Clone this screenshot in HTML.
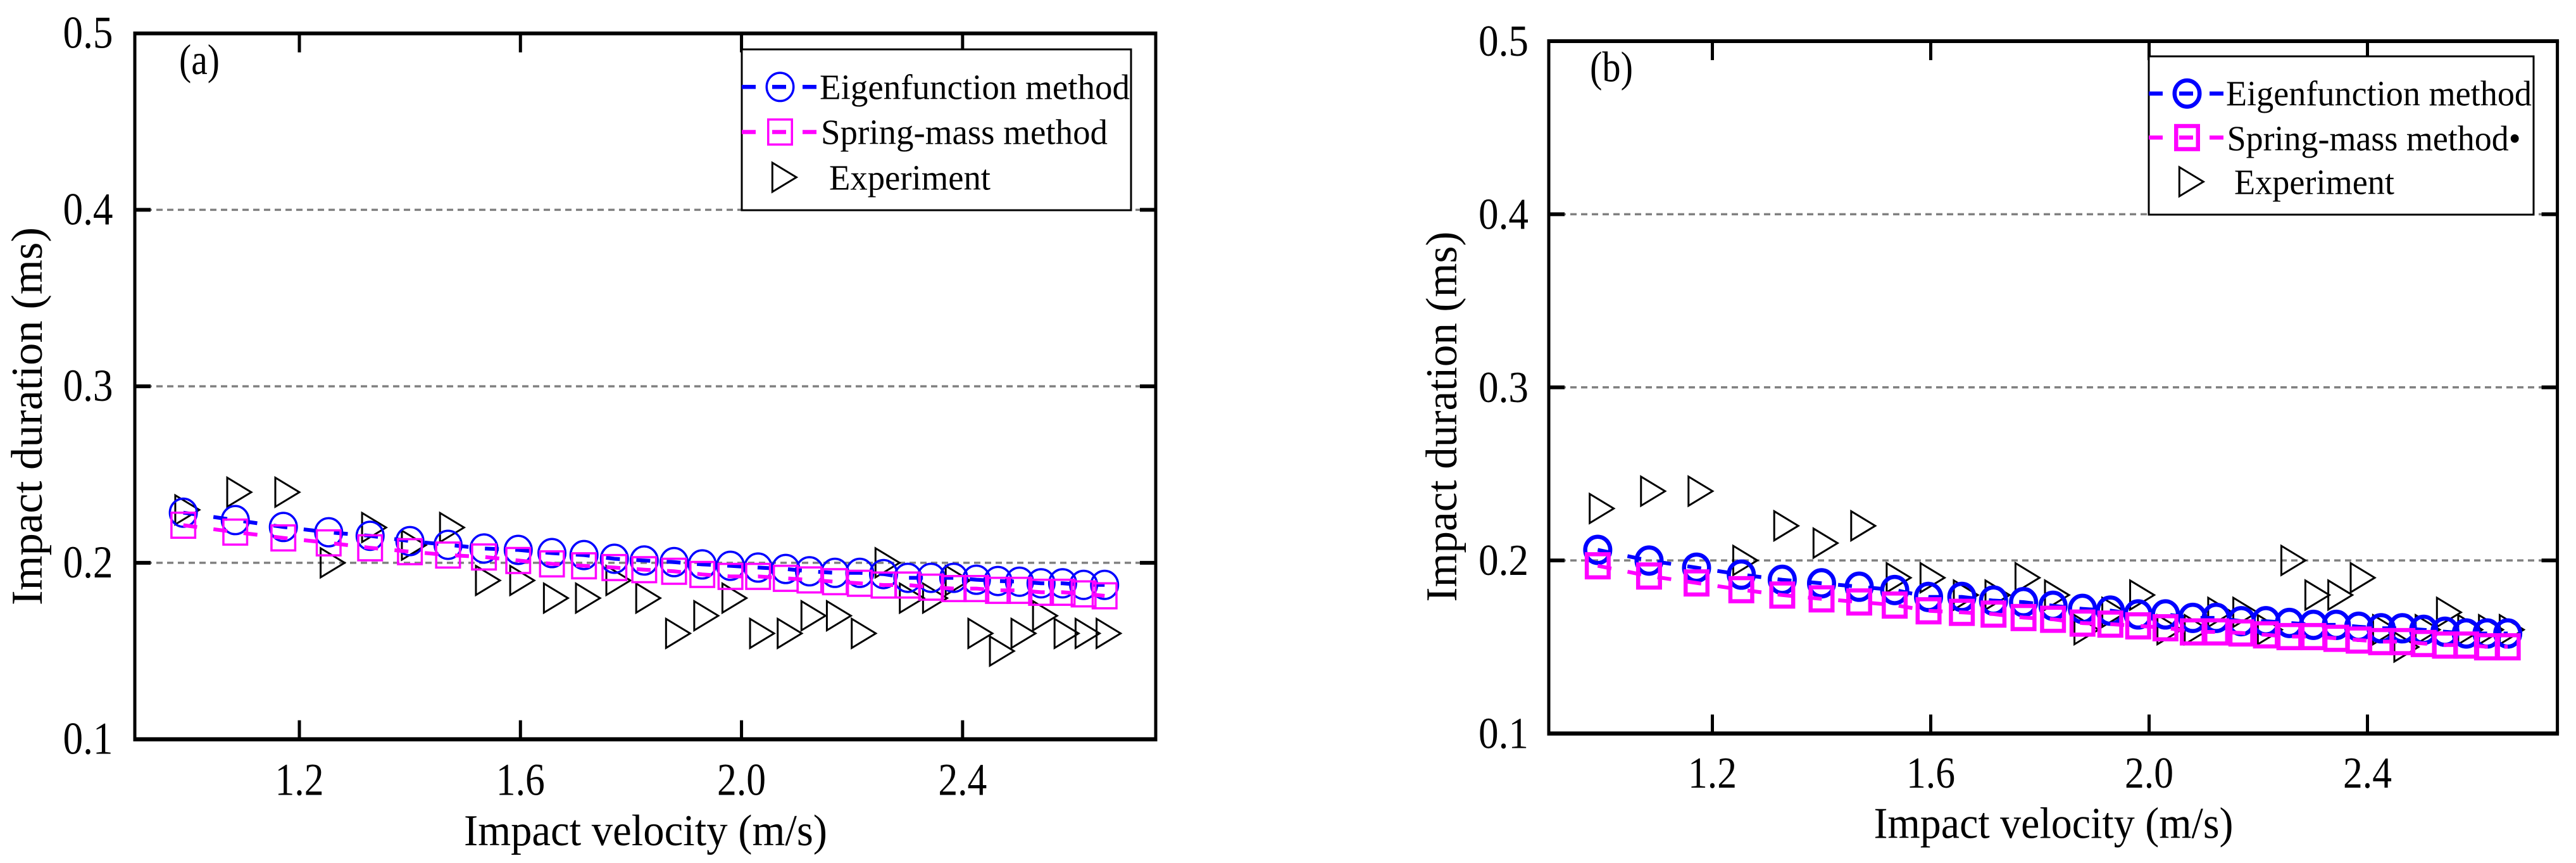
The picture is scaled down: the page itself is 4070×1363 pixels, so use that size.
<!DOCTYPE html>
<html lang="en">
<head>
<meta charset="utf-8">
<title>Impact duration versus impact velocity</title>
<style>
html,body{margin:0;padding:0;background:#fff;}
svg{display:block;}
text{font-family:"Liberation Serif","Times New Roman",serif;fill:#000;}
</style>
</head>
<body>
<svg id="figure" xmlns="http://www.w3.org/2000/svg" width="4070" height="1363" viewBox="0 0 4070 1363">
<rect x="0" y="0" width="4070" height="1363" fill="#fff"></rect>
</svg>
<script>
const velocity = [0.990,1.084,1.171,1.253,1.328,1.400,1.469,1.534,1.596,1.657,1.715,1.770,1.824,1.878,1.929,1.980,2.030,2.080,2.123,2.169,2.214,2.257,2.301,2.343,2.384,2.425,2.464,2.503,2.542,2.581,2.619,2.657];
const eigenA = [.2284,.2242,.2203,.2173,.2153,.2123,.2102,.2081,.2073,.2055,.2044,.2023,.2013,.2004,.1991,.1983,.1973,.1965,.1952,.1943,.1943,.1936,.1915,.1915,.1915,.1904,.1897,.1893,.1884,.1884,.1875,.1875];
const springA = [.2213,.2174,.2141,.2113,.2085,.2063,.2044,.2033,.2013,.1994,.1983,.1973,.1961,.1952,.1934,.1923,.1923,.1912,.1903,.1893,.1884,.1874,.1874,.1862,.1854,.1854,.1844,.1844,.1833,.1833,.1824,.1813];
const experimentA = [.23,.24,.24,.20,.22,.21,.22,.19,.19,.18,.18,.19,.18,.16,.17,.18,.16,.16,.17,.17,.16,.20,.18,.18,.19,.16,.15,.16,.17,.16,.16,.16];
const eigenB = [.2061,.1999,.1958,.1918,.1888,.1868,.1848,.1829,.1789,.1789,.1768,.1759,.1738,.1720,.1710,.1688,.1688,.1668,.1668,.1649,.1649,.1639,.1628,.1628,.1617,.1608,.1608,.1599,.1588,.1578,.1578,.1578];
const springB = [.1969,.1910,.1870,.1831,.1800,.1778,.1760,.1742,.1709,.1700,.1690,.1670,.1660,.1638,.1632,.1622,.1611,.1587,.1587,.1581,.1570,.1560,.1560,.1550,.1540,.1531,.1531,.1520,.1511,.1511,.1501,.1501];
const experimentB = [.23,.24,.24,.20,.22,.21,.22,.19,.19,.18,.18,.19,.18,.16,.17,.18,.16,.16,.17,.17,.16,.20,.18,.18,.19,.16,.15,.16,.17,.16,.16,.16];
const xTicks = [1.2,1.6,2.0,2.4];
const xTickLabels = ["1.2","1.6","2.0","2.4"];
const yTicks = [0.1,0.2,0.3,0.4,0.5];
const yTickLabels = ["0.1","0.2","0.3","0.4","0.5"];

const NS = "http://www.w3.org/2000/svg";
const root = document.getElementById("figure");

function svgEl(parent, tag, attrs, txt) {
  const el = document.createElementNS(NS, tag);
  for (const k in attrs) el.setAttribute(k, attrs[k]);
  if (txt !== undefined) el.textContent = txt;
  parent.appendChild(el);
  return el;
}
function triPoints(cx, cy) {
  return (cx - 12.7) + "," + (cy - 23) + " " + (cx + 25.3) + "," + cy + " " + (cx - 12.7) + "," + (cy + 23);
}

function drawPanel(cfg) {
  const xScale = function (v) { return cfg.x12 + (v - 1.2) * cfg.pxPerV; };
  const yScale = function (d) { return cfg.bottom - (d - 0.1) * (cfg.bottom - cfg.top) / 0.4; };

  const g = svgEl(root, "g", {});
  
  

  // gridlines
  yTicks.forEach(function (t) {
    if (t === 0.1 || t === 0.5) return;
    const line = svgEl(g, "line", {x1: cfg.left, x2: cfg.right, y1: yScale(t), y2: yScale(t), stroke: "#808080", "stroke-width": 3.5, "stroke-dasharray": "10 7"});
    
    
  });

  // axes frame
  const frameTop = svgEl(g, "line", {x1: cfg.left - 2.5, x2: cfg.right + 2.5, y1: cfg.top, y2: cfg.top, stroke: "#000", "stroke-width": 6});
  
  
  const frameBottom = svgEl(g, "line", {x1: cfg.left - 2.5, x2: cfg.right + 2.5, y1: cfg.bottom, y2: cfg.bottom, stroke: "#000", "stroke-width": 6.5});
  
  
  const frameLeft = svgEl(g, "line", {x1: cfg.left, x2: cfg.left, y1: cfg.top, y2: cfg.bottom, stroke: "#000", "stroke-width": 5});
  
  
  const frameRight = svgEl(g, "line", {x1: cfg.right, x2: cfg.right, y1: cfg.top, y2: cfg.bottom, stroke: "#000", "stroke-width": 5});
  
  

  // x ticks and labels
  xTicks.forEach(function (t, i) {
    const px = xScale(t);
    const top = svgEl(g, "line", {x1: px, x2: px, y1: cfg.top, y2: cfg.top + 30, stroke: "#000", "stroke-width": 5});
    
    
    const bot = svgEl(g, "line", {x1: px, x2: px, y1: cfg.bottom - 30, y2: cfg.bottom, stroke: "#000", "stroke-width": 5});
    
    
    const lab = svgEl(g, "text", {x: px - 38.5, y: cfg.bottom + cfg.xLabelDrop, "font-size": cfg.tickFont, textLength: 77, lengthAdjust: "spacingAndGlyphs"}, xTickLabels[i]);
    
    
  });

  // y ticks and labels
  yTicks.forEach(function (t, i) {
    const py = yScale(t);
    if (t !== 0.1 && t !== 0.5) {
      const tl = svgEl(g, "line", {x1: cfg.left, x2: cfg.left + 25, y1: py, y2: py, stroke: "#000", "stroke-width": 6});
      
      
      const tr = svgEl(g, "line", {x1: cfg.right - 25, x2: cfg.right, y1: py, y2: py, stroke: "#000", "stroke-width": 6});
      
      
    }
    const lab = svgEl(g, "text", {x: cfg.left - cfg.yLabelGap, y: py + 23, "font-size": cfg.tickFont, textLength: 79, lengthAdjust: "spacingAndGlyphs"}, yTickLabels[i]);
    
    
  });

  // axis titles and panel tag
  const xt = svgEl(g, "text", {x: cfg.xTitleX, y: cfg.xTitleY, "font-size": 70, textLength: cfg.xTitleLen, lengthAdjust: "spacingAndGlyphs"}, "Impact velocity (m/s)");
  
  
  const yt = svgEl(g, "text", {x: 0, y: 0, "font-size": 70, textLength: cfg.yTitleLen, lengthAdjust: "spacingAndGlyphs", transform: "translate(" + cfg.yTitleX + "," + cfg.yTitleY + ") rotate(-90)"}, "Impact duration (ms)");
  
  
  const tag = svgEl(g, "text", {x: cfg.tagX, y: cfg.tagY, "font-size": 68, textLength: cfg.tagLen, lengthAdjust: "spacingAndGlyphs"}, cfg.tag);
  
  

  // experiment markers
  velocity.forEach(function (v, i) {
    const m = svgEl(g, "polygon", {points: triPoints(xScale(v), yScale(cfg.experiment[i])), fill: "none", stroke: "#000", "stroke-width": 3});
    
    
  });

  // eigenfunction series
  const blueLine = svgEl(g, "polyline", {points: velocity.map(function (v, i) { return xScale(v) + "," + yScale(cfg.eigen[i]); }).join(" "), fill: "none", stroke: "#0000ff", "stroke-width": 6, "stroke-dasharray": "22 26"});
  
  
  velocity.forEach(function (v, i) {
    const m = svgEl(g, "ellipse", {cx: xScale(v), cy: yScale(cfg.eigen[i]), rx: 23 - cfg.markStroke / 2, ry: 24 - cfg.markStroke / 2, fill: "none", stroke: "#0000ff", "stroke-width": cfg.markStroke});
    
    
  });

  // spring-mass series
  const pinkLine = svgEl(g, "polyline", {points: velocity.map(function (v, i) { return xScale(v) + "," + yScale(cfg.spring[i]); }).join(" "), fill: "none", stroke: "#ff00ff", "stroke-width": 6, "stroke-dasharray": "22 26"});
  
  
  velocity.forEach(function (v, i) {
    const w = 41 - cfg.markStroke, h = 43 - cfg.markStroke;
    const m = svgEl(g, "rect", {x: xScale(v) - w / 2, y: yScale(cfg.spring[i]) - h / 2, width: w, height: h, fill: "none", stroke: "#ff00ff", "stroke-width": cfg.markStroke});
    
    
  });

  // legend
  const L = cfg.legend;
  const lg = svgEl(g, "g", {});
  
  
  const box = svgEl(lg, "rect", {x: L.x, y: L.y, width: L.w, height: L.h, fill: "#fff", stroke: "#000", "stroke-width": 3});
  
  

  const bl = svgEl(lg, "line", {x1: L.x, x2: L.x + 118, y1: L.row1, y2: L.row1, stroke: "#0000ff", "stroke-width": 6.5, "stroke-dasharray": "22 26"});
  
  
  const bc = svgEl(lg, "ellipse", {cx: L.x + 60.5, cy: L.row1, rx: 23 - cfg.markStroke / 2, ry: 24 - cfg.markStroke / 2, fill: "none", stroke: "#0000ff", "stroke-width": cfg.markStroke});
  
  
  const bt = svgEl(lg, "text", {x: L.textX1, y: L.base1, "font-size": 56, textLength: L.len1, lengthAdjust: "spacingAndGlyphs"}, "Eigenfunction method");
  
  

  const pl = svgEl(lg, "line", {x1: L.x, x2: L.x + 118, y1: L.row2, y2: L.row2, stroke: "#ff00ff", "stroke-width": 6.5, "stroke-dasharray": "22 26"});
  
  
  const sw = 41 - cfg.markStroke, sh = 43 - cfg.markStroke;
  const ps = svgEl(lg, "rect", {x: L.x + 60.5 - sw / 2, y: L.row2 - sh / 2, width: sw, height: sh, fill: "none", stroke: "#ff00ff", "stroke-width": cfg.markStroke});
  
  
  const pt = svgEl(lg, "text", {x: L.textX2, y: L.base2, "font-size": 56, textLength: L.len2, lengthAdjust: "spacingAndGlyphs"}, cfg.springLabel);
  
  

  const tm = svgEl(lg, "polygon", {points: triPoints(L.x + 61, L.row3), fill: "none", stroke: "#000", "stroke-width": 3});
  
  
  const tt = svgEl(lg, "text", {x: L.textX3, y: L.base3, "font-size": 56, textLength: L.len3, lengthAdjust: "spacingAndGlyphs"}, "Experiment");
  
  
}

drawPanel({
  id: "a", tag: "(a)", eigen: eigenA, spring: springA, experiment: experimentA,
  left: 213, right: 1826, top: 52.7, bottom: 1167.6, x12: 473, pxPerV: 873.2,
  tickFont: 72, xLabelDrop: 88, yLabelGap: 113.5, markStroke: 3.5,
  xTitleX: 733, xTitleY: 1335, xTitleLen: 574,
  yTitleX: 66, yTitleY: 956, yTitleLen: 597,
  tagX: 283, tagY: 117, tagLen: 64,
  springLabel: "Spring-mass method",
  legend: {x: 1172, y: 78, w: 615, h: 254, row1: 137.3, row2: 208.5, row3: 280,
    textX1: 1295, base1: 156.7, len1: 490, textX2: 1297, base2: 227.7, len2: 453, textX3: 1310, base3: 299.3, len3: 255}
});
drawPanel({
  id: "b", tag: "(b)", eigen: eigenB, spring: springB, experiment: experimentB,
  left: 2447, right: 4040.6, top: 65, bottom: 1158.5, x12: 2705.5, pxPerV: 862.5,
  tickFont: 70, xLabelDrop: 85.5, yLabelGap: 111, markStroke: 6.5,
  xTitleX: 2960.5, xTitleY: 1323.7, xTitleLen: 568,
  yTitleX: 2301, yTitleY: 950.6, yTitleLen: 585,
  tagX: 2512, tagY: 128.6, tagLen: 68,
  springLabel: "Spring-mass method\u2022",
  legend: {x: 3395, y: 89, w: 608, h: 250, row1: 147.7, row2: 217.3, row3: 287,
    textX1: 3517, base1: 166.7, len1: 483, textX2: 3518.6, base2: 237.3, len2: 464, textX3: 3530, base3: 306.7, len3: 253}
});
</script>
</body>
</html>
